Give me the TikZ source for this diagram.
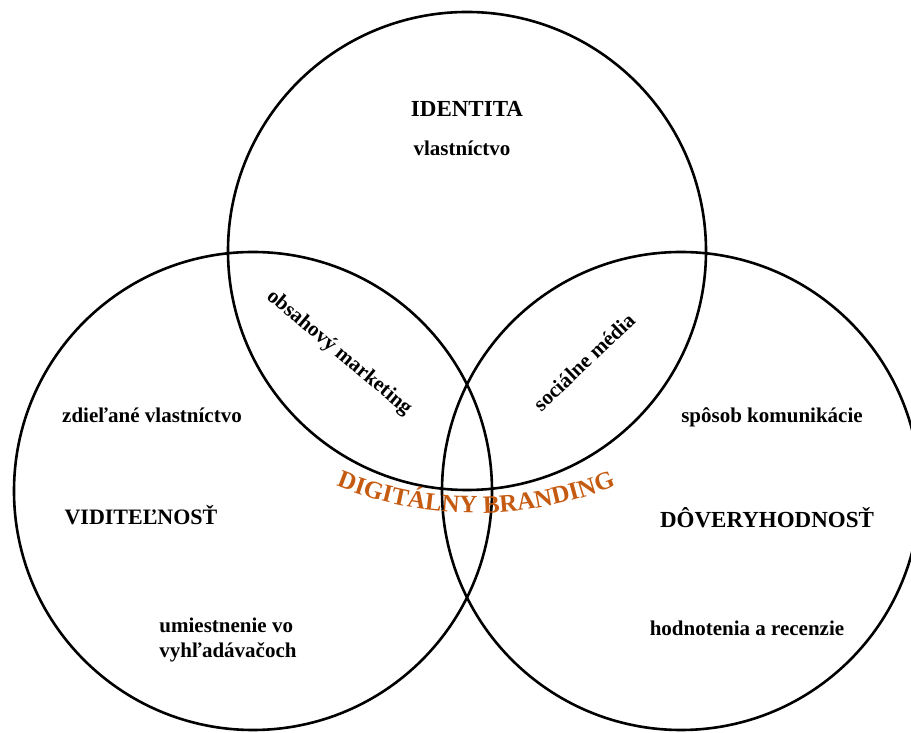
\documentclass[tikz,border=0pt]{standalone}
\usepackage{fontspec}
\setmainfont{Liberation Serif}
\usetikzlibrary{decorations.text}
\definecolor{brand}{HTML}{C55A11}
\tikzset{
  ring/.style={circle, draw=black, line width=2.6pt, minimum size=478pt, inner sep=0pt},
  label/.style={font=\fontsize{21}{25}\selectfont\bfseries, inner sep=0pt, anchor=base},
  title/.style={font=\fontsize{23}{27}\selectfont\bfseries, inner sep=0pt, anchor=base},
  slanted/.style={font=\fontsize{21}{25}\selectfont\bfseries, inner sep=0pt}
}
\begin{document}
\begin{tikzpicture}[x=1pt, y=1pt]
\useasboundingbox (0,0) rectangle (911,733);
\begin{scope}
\clip (0,0) rectangle (911,733);
% the three sets
\node[ring] (identita) at (467,482) {};
\node[ring] (viditelnost) at (253,242) {};
\node[ring] (doveryhodnost) at (681,242) {};
\end{scope}

% top set
\node[title] (tIdentita) at (467,616) {IDENTITA};
\node[label] (lVlast) at (462,577) {vlastníctvo};

% left set
\node[label] (lZdielane) at (152,310) {zdieľané vlastníctvo};
\node[title, font=\fontsize{22}{26}\selectfont\bfseries] (tViditelnost) at (141,208) {VIDITEĽNOSŤ};
\node[label, align=left, anchor=north] (lUmiest) at (228,115)
  {umiestnenie vo\\vyhľadávačoch};

% right set
\node[label] (lSposob) at (772,310) {spôsob komunikácie};
\node[title] (tDover) at (767,205) {DÔVERYHODNOSŤ};
\node[label] (lHodn) at (747,97) {hodnotenia a recenzie};

% overlaps
\node[slanted, rotate=-40] (lObsah) at (339,380) {obsahový marketing};
\node[slanted, rotate=43.5] (lSocial) at (584,371) {sociálne média};

% centre: curved title
\path[decorate, decoration={text along path, text align=center,
  text={|\fontsize{25}{25}\selectfont\bfseries\color{brand}|DIGITÁLNY BRANDING}}]
  (476,592) ++(238:372pt) arc[start angle=238, end angle=302, radius=372pt];
\end{tikzpicture}
\end{document}
